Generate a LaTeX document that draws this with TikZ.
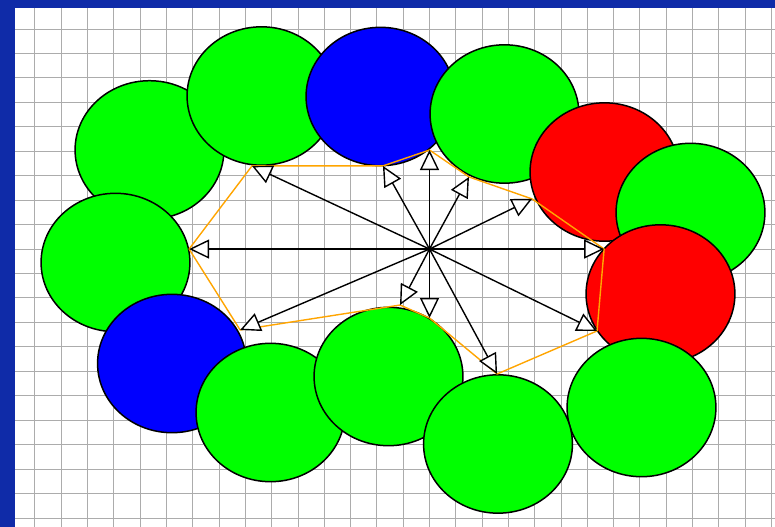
\documentclass[tikz,border=0pt]{standalone}
\usepackage{tikz}
\usepackage{xcolor}
\usetikzlibrary{arrows.meta}

\definecolor{frame_blue}{RGB}{15,43,168}
\definecolor{grid_gray}{RGB}{172,172,172}
\definecolor{hull_orange}{RGB}{255,165,0}

\begin{document}
\begin{tikzpicture}[x=26.3pt, y=-24.45pt,
    grid_style/.style={grid_gray, line width=1pt},
    disc_style/.style={draw=black, line width=1.5pt},
    hull_style/.style={hull_orange, line width=1.4pt, line join=round},
    ray_style/.style={black, line width=1.4pt, -{Triangle[length=20pt, width=19pt, fill=white]}}
]
    % Canvas
    \path[use as bounding box] (-1.3308,-1.1861) rectangle (28.137,20.368);
    \clip (-1.3308,-1.1861) rectangle (28.137,20.368);
    \fill[white] (-1.3308,-1.1861) rectangle (28.137,20.368);

    % Set up the grid
    \foreach \x in {-1,...,28} \draw[grid_style] (\x,-1.3) -- (\x,20.5);
    \foreach \y in {-1,...,20} \draw[grid_style] (-1.4,\y) -- (28.2,\y);

    % Draw the discs (in stacking order)
    \foreach \cx/\cy/\col in {4.354/4.945/green, 8.612/2.740/green, 13.137/2.761/blue,
        17.852/3.476/green, 21.654/5.849/red, 24.924/7.505/green, 23.783/10.838/red,
        23.061/15.481/green, 3.061/9.550/green, 5.209/13.681/blue, 8.954/15.685/green,
        13.441/14.213/green, 17.605/16.973/green}
        \draw[disc_style, fill=\col] (\cx,\cy) circle [radius=2.83];

    % Hub and contact points
    \coordinate (hub_point) at (15,9);
    \coordinate (tip_a) at (8.25,5.60);
    \coordinate (tip_b) at (13.23,5.60);
    \coordinate (tip_c) at (15,4.95);
    \coordinate (tip_d) at (16.50,6.05);
    \coordinate (tip_e) at (18.90,6.95);
    \coordinate (tip_f) at (21.64,9);
    \coordinate (tip_g) at (21.37,12.35);
    \coordinate (tip_h) at (17.57,14.11);
    \coordinate (tip_i) at (15,11.82);
    \coordinate (tip_j) at (13.88,11.29);
    \coordinate (tip_k) at (7.80,12.31);
    \coordinate (tip_l) at (5.86,9);

    % Hull through the contact points
    \draw[hull_style] (tip_a) -- (tip_b) -- (tip_c) -- (tip_d) -- (tip_e) -- (tip_f)
        -- (tip_g) -- (tip_h) -- (tip_i) -- (tip_j) -- (tip_k) -- (tip_l) -- cycle;

    % Rays from the hub
    \foreach \t in {a,b,c,d,e,f,g,h,i,j,k,l}
        \draw[ray_style] (hub_point) -- (tip_\t);

    % Frame
    \fill[frame_blue] (-1.3308,-1.1861) rectangle (-0.7605,20.368);
    \fill[frame_blue] (-1.3308,-1.1861) rectangle (28.137,-0.8466);
\end{tikzpicture}
\end{document}
